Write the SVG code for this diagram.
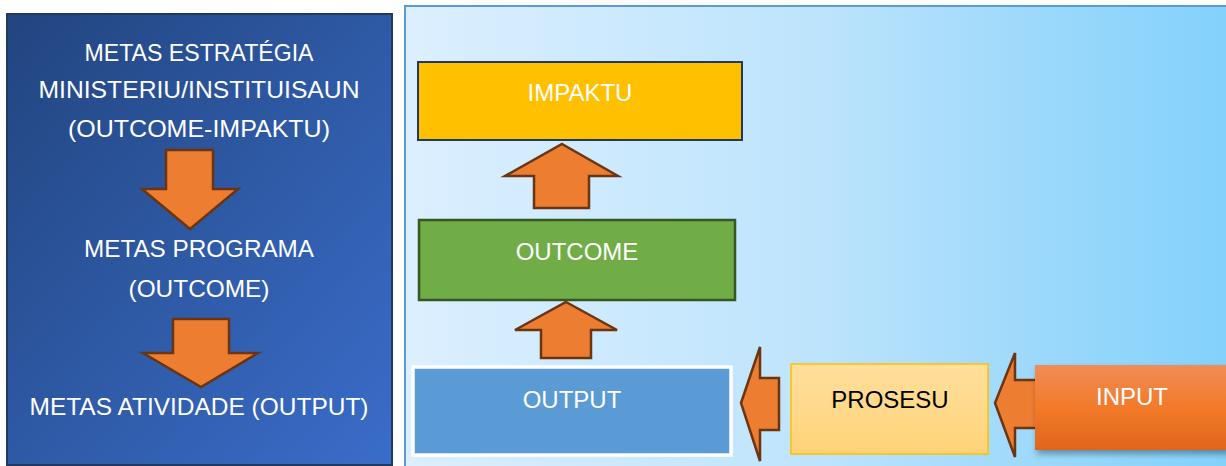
<svg xmlns="http://www.w3.org/2000/svg" width="1226" height="466" viewBox="0 0 1226 466">
<defs>
<linearGradient id="gLeft" x1="0" y1="0" x2="1" y2="1">
<stop offset="0" stop-color="#22457f"/>
<stop offset="1" stop-color="#3a6dca"/>
</linearGradient>
<linearGradient id="gRight" x1="0" y1="0" x2="1" y2="0">
<stop offset="0" stop-color="#dcefff"/>
<stop offset="0.5" stop-color="#bde4fc"/>
<stop offset="0.75" stop-color="#9ed9fb"/>
<stop offset="1" stop-color="#82d1fc"/>
</linearGradient>
<linearGradient id="gProsesu" x1="0" y1="0" x2="0" y2="1">
<stop offset="0" stop-color="#ffdf9d"/>
<stop offset="1" stop-color="#ffd378"/>
</linearGradient>
<linearGradient id="gInput" x1="0" y1="0" x2="0" y2="1">
<stop offset="0" stop-color="#f08d56"/>
<stop offset="0.5" stop-color="#f27a2a"/>
<stop offset="1" stop-color="#e0651b"/>
</linearGradient>
<filter id="shadow" x="-10%" y="-10%" width="130%" height="140%">
<feDropShadow dx="2" dy="4" stdDeviation="3" flood-color="#000" flood-opacity="0.35"/>
</filter>
<style>
.t{font-family:"Liberation Sans",Arial,sans-serif;font-size:24px;fill:#fff;text-anchor:middle}
.dk{fill:#000}
.arr{fill:#ed7d31;stroke:#6b3512;stroke-width:2.5;stroke-linejoin:miter}
</style>
</defs>

<g id="panel-left">
<rect x="7" y="14" width="385" height="451" fill="url(#gLeft)" stroke="#22395f" stroke-width="2"/>
<text class="t" x="199" y="61" textLength="229" lengthAdjust="spacingAndGlyphs">METAS ESTRATÉGIA</text>
<text class="t" x="199" y="98" textLength="321" lengthAdjust="spacingAndGlyphs">MINISTERIU/INSTITUISAUN</text>
<text class="t" x="199" y="137" textLength="262" lengthAdjust="spacingAndGlyphs">(OUTCOME-IMPAKTU)</text>
<text class="t" x="199" y="257" textLength="230" lengthAdjust="spacingAndGlyphs">METAS PROGRAMA</text>
<text class="t" x="199" y="297" textLength="141" lengthAdjust="spacingAndGlyphs">(OUTCOME)</text>
<text class="t" x="199" y="415" textLength="339" lengthAdjust="spacingAndGlyphs">METAS ATIVIDADE (OUTPUT)</text>
</g>

<g id="panel-right">
<rect x="405" y="6" width="830" height="470" fill="url(#gRight)" stroke="#5b9bd5" stroke-width="2"/>
</g>

<g id="node-impaktu">
<rect x="418" y="62" width="324" height="78" fill="#ffc000" stroke="#1f3864" stroke-width="2"/>
<text class="t" x="580" y="101">IMPAKTU</text>
</g>

<g id="node-outcome">
<rect x="419" y="220" width="316" height="80" fill="#70ad47" stroke="#375623" stroke-width="2.5"/>
<text class="t" x="577" y="260">OUTCOME</text>
</g>

<g id="node-output">
<rect x="413" y="367" width="318" height="88" fill="#5b9bd5" stroke="#ffffff" stroke-width="3.5"/>
<text class="t" x="572" y="408">OUTPUT</text>
</g>

<g id="node-prosesu">
<rect x="791" y="364" width="197" height="90" fill="url(#gProsesu)" stroke="#ffc000" stroke-width="1.5"/>
<text class="t dk" x="890" y="408">PROSESU</text>
</g>

<g id="connectors">
<polygon class="arr" points="166,150 213,150 213,189 238,189 190,229 142,189 166,189"/>
<polygon class="arr" points="173,319 229,319 229,353 258,353 201,387 143,353 173,353"/>
<polygon class="arr" points="562,144 618,176 589,176 589,208 534,208 534,176 505,176"/>
<polygon class="arr" points="566,302 617,330 591,330 591,358 541,358 541,330 515,330"/>
<polygon class="arr" points="741,403 760,347 760,378 779,378 779,430 760,430 760,461"/>
<polygon class="arr" points="995,403 1015,353 1015,380 1040,380 1040,428 1015,428 1015,457"/>
</g>

<g id="node-input">
<rect x="1035" y="365" width="200" height="85" fill="url(#gInput)" filter="url(#shadow)"/>
<text class="t" x="1132" y="405">INPUT</text>
</g>
</svg>
